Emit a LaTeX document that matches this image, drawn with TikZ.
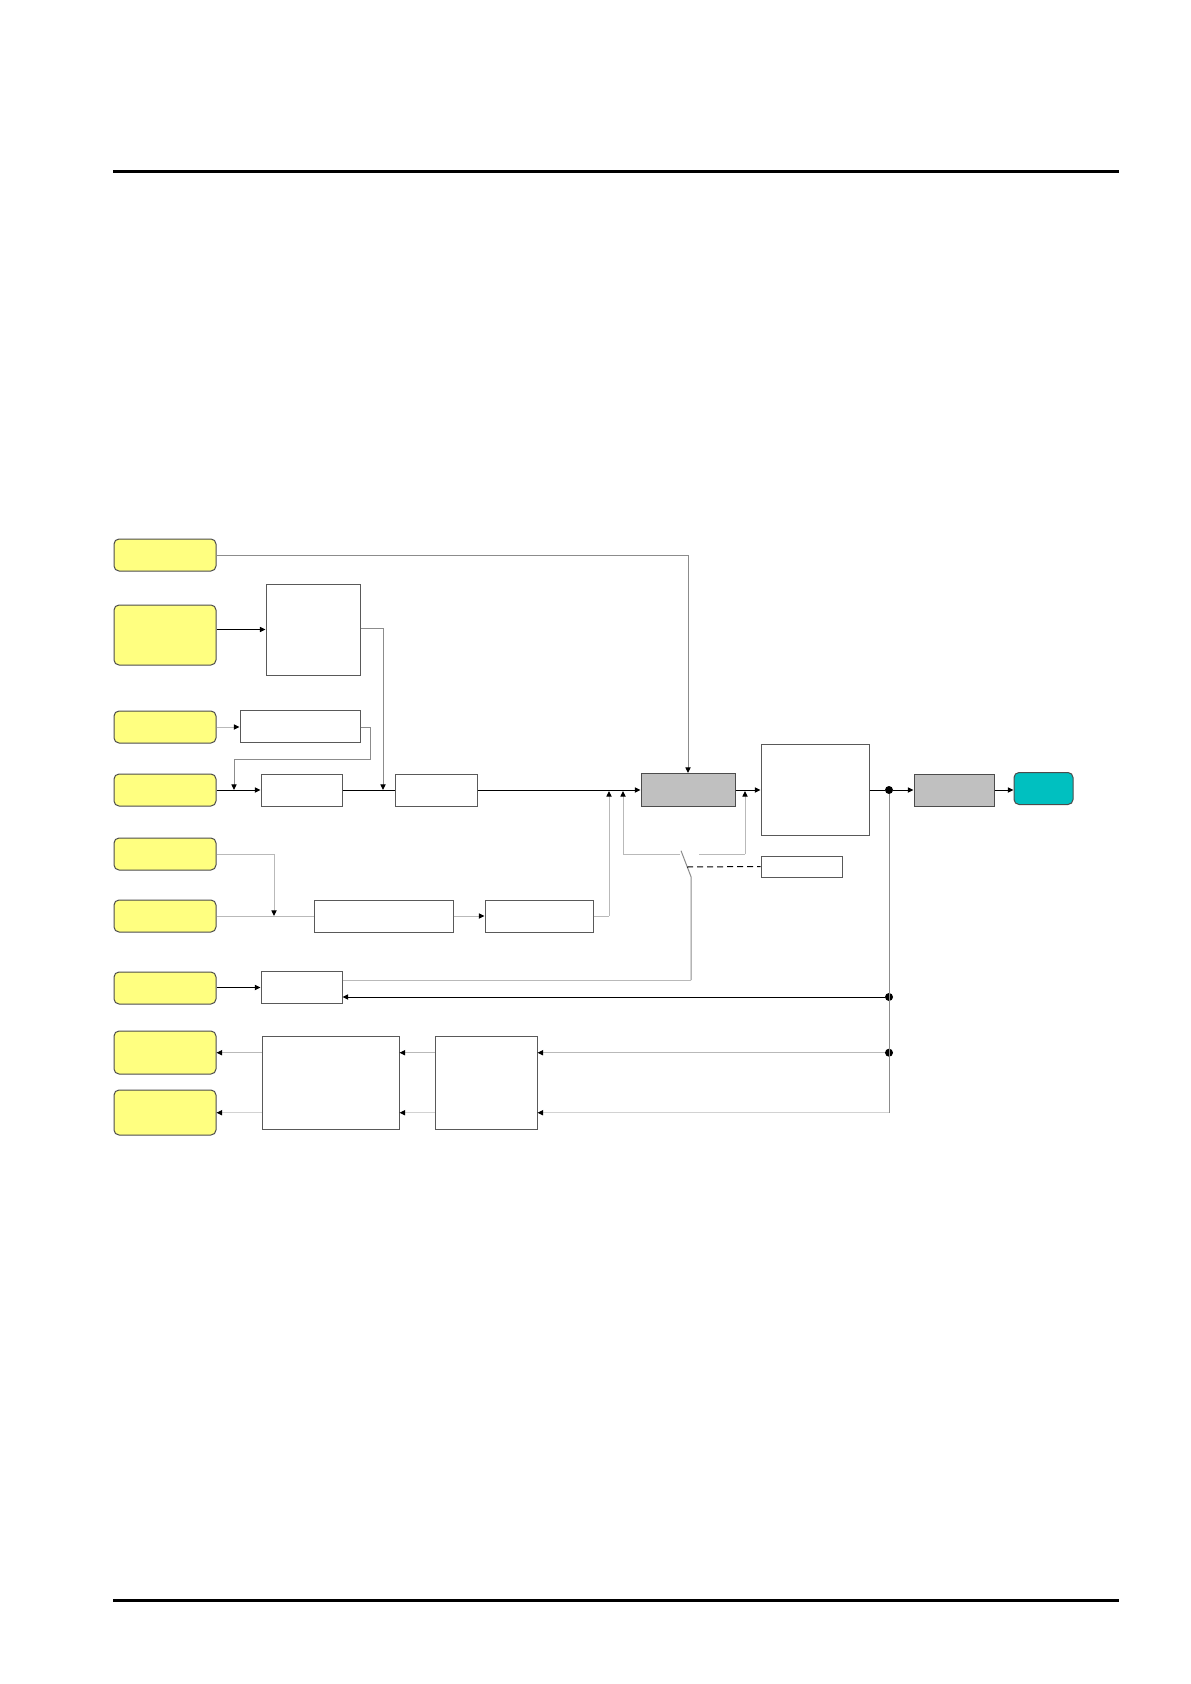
\documentclass[tikz,border=0pt]{standalone}
\usetikzlibrary{arrows.meta,calc}
\definecolor{ylw}{RGB}{255,255,128}
\definecolor{teal1}{RGB}{0,192,192}
\definecolor{gbox}{RGB}{192,192,192}
\definecolor{ln1}{RGB}{140,140,140}
\definecolor{ln2}{RGB}{185,185,185}
\definecolor{ln3}{RGB}{210,210,210}
\tikzset{
  px/.style={x=0.5pt,y=-0.5pt},
  ybox/.style={draw=black!70,fill=ylw,rounded corners=2.5pt,line width=0.5pt,inner sep=0pt,minimum width=51pt},
  wbox/.style={draw=black!65,fill=white,line width=0.5pt,inner sep=0pt},
  gbx/.style={draw=black!70,fill=gbox,line width=0.5pt,inner sep=0pt},
  tbx/.style={draw=black!70,fill=teal1,rounded corners=2.5pt,line width=0.5pt,inner sep=0pt},
  con/.style={line width=0.5pt,black},
  gcon/.style={line width=0.5pt,ln1},
  lcon/.style={line width=0.5pt,ln2},
  llcon/.style={line width=0.5pt,ln3},
  tip/.style={-{Triangle[length=2.8pt,width=2.6pt,color=black]}},
  dotn/.style={circle,fill=black,inner sep=0pt,minimum size=4pt},
  rule/.style={line width=1.6pt,black}
}
\begin{document}
\begin{tikzpicture}[px]
\useasboundingbox (0,0) rectangle (1190,1684);
% header / footer rules
\coordinate (h1) at (113,171.3);
\coordinate (h2) at (1119,171.3);
\coordinate (f1) at (113,1600.5);
\coordinate (f2) at (1119,1600.5);
\draw[rule] (h1) -- (h2);
\draw[rule] (f1) -- (f2);

% yellow inputs / outputs
\node[ybox,minimum height=16pt] (Y1) at (165,555) {};
\node[ybox,minimum height=30pt] (Y2) at (165,635) {};
\node[ybox,minimum height=16pt] (Y3) at (165,727) {};
\node[ybox,minimum height=16pt] (Y4) at (165,790) {};
\node[ybox,minimum height=16pt] (Y5) at (165,854) {};
\node[ybox,minimum height=16pt] (Y6) at (165,916) {};
\node[ybox,minimum height=16pt] (Y7) at (165,988) {};
\node[ybox,minimum height=21.5pt] (Y8) at (165,1052.5) {};
\node[ybox,minimum height=22.5pt] (Y9) at (165,1112.5) {};

% blocks
\node[wbox,minimum width=47pt,minimum height=45.5pt] (A) at (313,629.5) {};
\node[wbox,minimum width=60pt,minimum height=16pt] (B) at (300,726) {};
\node[wbox,minimum width=40.5pt,minimum height=16pt] (C) at (301.5,790) {};
\node[wbox,minimum width=41pt,minimum height=16pt] (D) at (436,790) {};
\node[gbx,minimum width=47pt,minimum height=16.5pt] (H) at (688,790) {};
\node[wbox,minimum width=54pt,minimum height=45.5pt] (J) at (815,790) {};
\node[gbx,minimum width=40pt,minimum height=16pt] (K) at (954,790) {};
\node[tbx,minimum width=29.5pt,minimum height=16pt] (L) at (1043.5,788.5) {};
\node[wbox,minimum width=69.5pt,minimum height=16pt] (E) at (383.5,916) {};
\node[wbox,minimum width=54pt,minimum height=16pt] (F) at (539,916) {};
\node[wbox,minimum width=40.5pt,minimum height=10.5pt] (I) at (801.5,866.5) {};
\node[wbox,minimum width=40.5pt,minimum height=16pt] (G) at (301.5,987.5) {};
\node[wbox,minimum width=68.5pt,minimum height=46.5pt] (M) at (330.5,1082.5) {};
\node[wbox,minimum width=51pt,minimum height=46.5pt] (N) at (486,1082.5) {};

% junction / routing coordinates
\coordinate (j1) at (688,555);
\coordinate (a1) at (383,628);
\coordinate (a2) at (383,790);
\coordinate (b1) at (370,727);
\coordinate (b2) at (370,759);
\coordinate (b3) at (234,759);
\coordinate (b4) at (234,790);
\coordinate (e1) at (274,854);
\coordinate (e2) at (274,916);
\coordinate (fu1) at (609,916);
\coordinate (fu2) at (609,791);
\coordinate (s1) at (680,854);
\coordinate (s2) at (623,854);
\coordinate (s3) at (623,791);
\coordinate (s4) at (699,854);
\coordinate (s5) at (745,854);
\coordinate (s6) at (745,791);
\coordinate (bl1) at (681,850.7);
\coordinate (bl2) at (691,876.7);
\coordinate (bl3) at (691,980);
\coordinate (dsh) at (687,867);
\node[dotn] (d1) at (889,790) {};
\node[dotn] (d2) at (889,997) {};
\node[dotn] (d3) at (889,1052.7) {};
\coordinate (d4) at (889,1112.7);

% main chain
\draw[gcon,tip] (Y1.east) -- (j1) -- (H.north);
\draw[con,tip] (A.west -| Y2.east) -- (A.west);
\draw[gcon] (a1 -| A.east) -- (a1);
\draw[gcon,tip] (a1) -- (a2);
\draw[lcon,tip] (Y3.east) -- (B.west |- Y3.east);
\draw[gcon] (b1 -| B.east) -- (b1) -- (b2) -- (b3);
\draw[gcon,tip] (b3) -- (b4);
\draw[con,tip] (Y4.east) -- (C.west);
\draw[con] (C.east) -- (D.west);
\draw[con,tip] (D.east) -- (H.west);
\draw[con,tip] (H.east) -- (J.west);
\draw[con] (J.east) -- (d1);
\draw[con,tip] (d1) -- (K.west);
\draw[con,tip] (K.east) -- (K.east -| L.west);

% lower inputs
\draw[lcon] (Y5.east) -- (e1);
\draw[lcon,tip] (e1) -- (e2);
\draw[lcon] (Y6.east) -- (E.west);
\draw[lcon,tip] (E.east) -- (F.west);
\draw[lcon] (F.east) -- (fu1);
\draw[lcon,tip] (fu1) -- (fu2);

% switch
\draw[lcon] (s1) -- (s2);
\draw[lcon,tip] (s2) -- (s3);
\draw[lcon] (s4) -- (s5);
\draw[lcon,tip] (s5) -- (s6);
\draw[gcon] (bl1) -- (bl2) -- (bl3);
\draw[con,dashed,dash pattern=on 3pt off 2pt] (dsh) -- (I.west);

% feedback
\draw[con,tip] (G.west -| Y7.east) -- (G.west);
\draw[lcon] (G.east |- bl3) -- (bl3);
\draw[gcon] (d1) -- (d4);
\draw[con,tip] (d2) -- (G.east |- d2);
\draw[lcon,tip] (d3) -- (N.east |- d3);
\draw[llcon,tip] (d4) -- (N.east |- d4);
\draw[lcon,tip] (N.west |- d3) -- (M.east |- d3);
\draw[llcon,tip] (N.west |- d4) -- (M.east |- d4);
\draw[lcon,tip] (M.west |- d3) -- (Y8.east |- d3);
\draw[llcon,tip] (M.west |- d4) -- (Y9.east |- d4);
\end{tikzpicture}
\end{document}
